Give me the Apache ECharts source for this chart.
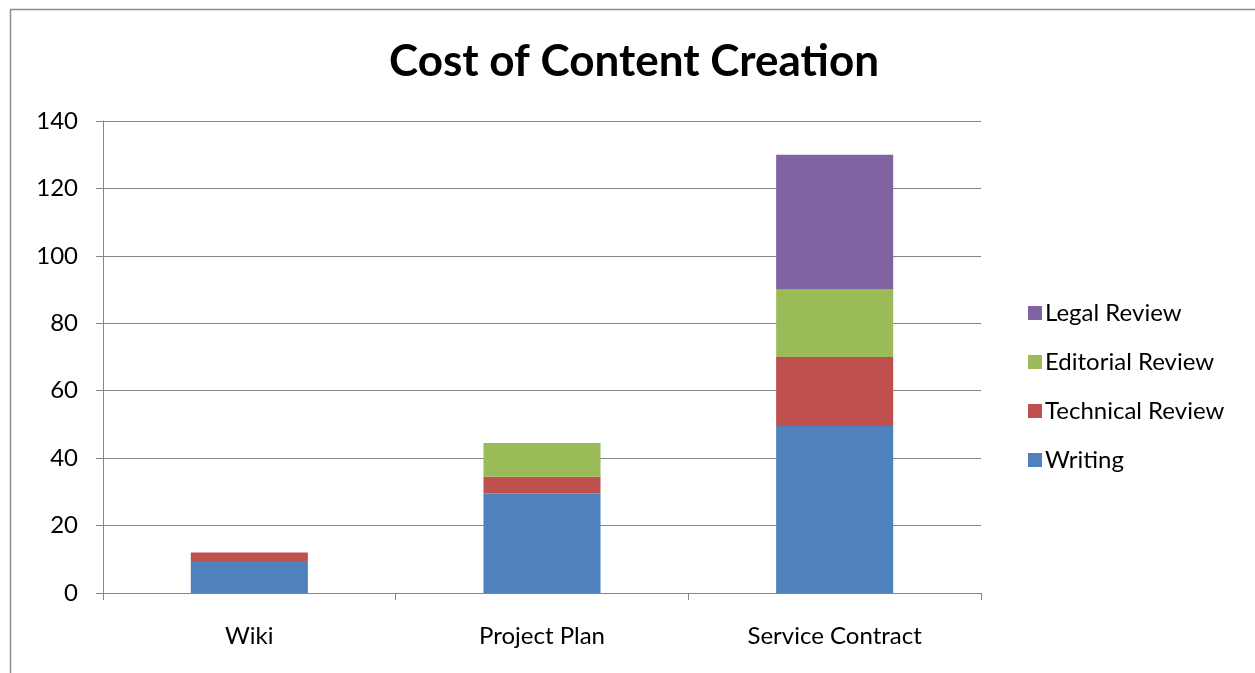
<!DOCTYPE html>
<html><head><meta charset="utf-8">
<script src="https://cdn.jsdelivr.net/npm/echarts@6/dist/echarts.min.js"></script>
<style>html,body{margin:0;padding:0;background:#fff}#c{width:1255px;height:673px}</style>
</head><body><div id="c"></div>
<script>
const categories = ['Wiki', 'Project Plan', 'Service Contract'];
const writing = [9.5, 29.5, 49.5];
const technicalReview = [2.5, 5, 20.5];
const editorialReview = [0, 10, 20];
const legalReview = [0, 0, 40];
const seriesNames = ['Writing', 'Technical Review', 'Editorial Review', 'Legal Review'];
const colors = ['#4F81BD', '#C0504D', '#9BBB59', '#8064A2'];
const FONT = 'Lato, "Open Sans", sans-serif';

const chart = echarts.init(document.getElementById('c'));
const dataSets = [writing, technicalReview, editorialReview, legalReview];
chart.setOption({
  animation: false,
  title: {
    text: 'Cost of Content Creation', left: 629, top: 35, textAlign: 'center',
    textStyle: { fontFamily: FONT, fontSize: 44, fontWeight: 'bold', color: '#000' }
  },
  graphic: [{ type: 'rect', shape: { x: 10.5, y: 9.5, width: 1260, height: 680 },
    style: { fill: 'none', stroke: '#8c8c8c', lineWidth: 1.5 }, silent: true }],
  legend: {
    data: seriesNames.slice().reverse(), orient: 'vertical', left: 1023, top: 296,
    itemWidth: 14, itemHeight: 14, itemGap: 25, icon: 'rect',
    textStyle: { fontFamily: FONT, fontSize: 24, color: '#000', padding: [0, 0, 0, -2] }
  },
  grid: { left: 103, right: 274, top: 121, bottom: 80 },
  xAxis: {
    type: 'category', data: categories,
    axisLine: { lineStyle: { color: '#868686', width: 1 } },
    axisTick: { show: true, length: 7, lineStyle: { color: '#868686' } },
    axisLabel: { fontFamily: FONT, fontSize: 24, color: '#000', margin: 31 }
  },
  yAxis: {
    type: 'value', min: 0, max: 140, interval: 20,
    axisLine: { show: true, lineStyle: { color: '#868686' } },
    axisTick: { show: true, length: 7, lineStyle: { color: '#868686' } },
    splitLine: { lineStyle: { color: '#868686', width: 1 } },
    axisLabel: { fontFamily: FONT, fontSize: 24, color: '#000', margin: 25 }
  },
  series: seriesNames.map((n, i) => ({
    name: n, type: 'bar', stack: 'total', barWidth: '40%',
    data: dataSets[i], itemStyle: { color: colors[i] }
  }))
});
</script></body></html>
